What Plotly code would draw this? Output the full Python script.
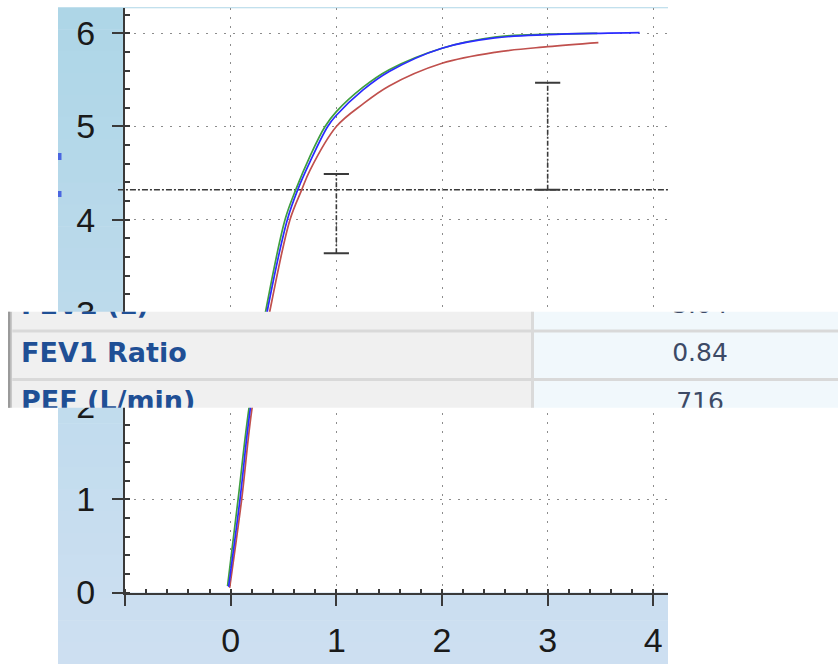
import plotly.graph_objects as go

W, H = 838, 664
# the photographed frame is squeezed vertically (~0.9715); draw the figure
# taller so that positions land where the reference has them
FIG_H = 683

# ---------------- data ----------------
# Volume-time curves (time in s, volume in L)
green_t = [-0.03, 0.07, 0.176, 0.35, 0.514, 0.615, 0.75, 0.893, 1.0, 1.25, 1.5, 2.0, 2.5, 3.0, 3.47]
green_v = [0.07, 1.0, 2.0, 3.13, 4.0, 4.32, 4.68, 5.0, 5.16, 5.42, 5.61, 5.84, 5.96, 5.99, 6.0]

blue_t = [-0.02, 0.088, 0.189, 0.365, 0.536, 0.634, 0.75, 0.918, 1.0, 1.25, 1.5, 2.0, 2.5, 3.0, 3.5, 3.87]
blue_v = [0.06, 1.0, 2.0, 3.13, 4.0, 4.32, 4.62, 5.0, 5.12, 5.39, 5.59, 5.84, 5.95, 5.985, 6.0, 6.006]

red_t = [-0.01, 0.104, 0.205, 0.39, 0.561, 0.672, 0.75, 1.0, 1.25, 1.5, 2.0, 2.5, 3.0, 3.48]
red_v = [0.05, 1.0, 2.0, 3.13, 4.0, 4.32, 4.53, 5.0, 5.24, 5.435, 5.678, 5.796, 5.856, 5.9]

# predicted ranges (error-bar style markers)
range_t = [1, 3]
range_low = [3.64, 4.32]
range_high = [4.49, 5.47]
lln_level = 4.32

x_tick_vals = [-1, 0, 1, 2, 3, 4]
x_tick_text = ["", "0", "1", "2", "3", "4"]
y_tick_vals = [0, 1, 2, 3, 4, 5, 6]

# overlaid results table strip
table_labels = ["FEV1 (L)", "FEV1 Ratio", "PEF (L/min)"]
table_values = ["5.04", "0.84", "716"]
table_rows = [0, 1, 2]

# ---------------- helpers ----------------
def fx(p):
    return p / W


def fy(p):
    return 1 - p / H


AX = "#3a3a3a"
TICKFONT = dict(family="Liberation Sans, Arial, sans-serif", size=34, color="#1a1a1a")

fig = go.Figure()

# curves (red, green, blue on top)
for t, v, c in [(red_t, red_v, "#c0504d"), (green_t, green_v, "#3f9f3f"), (blue_t, blue_v, "#2b2bff")]:
    fig.add_trace(go.Scatter(
        x=t, y=v, mode="lines", xaxis="x", yaxis="y",
        line=dict(color=c, width=1.7, shape="spline", smoothing=1.0),
        hoverinfo="skip", showlegend=False))

# predicted range bars
for t, lo, hi in zip(range_t, range_low, range_high):
    fig.add_trace(go.Scatter(
        x=[t, t], y=[lo, hi], mode="lines+markers", xaxis="x", yaxis="y",
        line=dict(color=AX, width=1.6, dash="5px,2px,2px,2px"),
        marker=dict(symbol="line-ew", size=18, line=dict(width=2, color=AX)),
        hoverinfo="skip", showlegend=False))

# ---------------- table strip (subplot 2, drawn above the chart) ----------------
STRIP_TOP, STRIP_BOT = 311.7, 407.7
ROW_PITCH, ROW1_CENTER = 48.5, 355.25
y2_top = 1 - (ROW1_CENTER - STRIP_TOP) / ROW_PITCH
y2_bot = 1 + (STRIP_BOT - ROW1_CENTER) / ROW_PITCH
COL_DIV = 532.5


def rect(x0, x1, color):
    fig.add_trace(go.Scatter(
        x=[x0, x1, x1, x0, x0], y=[-1, -1, 3, 3, -1], mode="lines", fill="toself",
        fillcolor=color, line=dict(width=0, color=color), xaxis="x2", yaxis="y2",
        hoverinfo="skip", showlegend=False))


rect(8, 12.3, "#c9c9c9")
rect(8, 10.3, "#9a9a9a")
rect(12.3, COL_DIV, "#f0f0f0")
rect(COL_DIV, W, "#f1f8fc")

# separators
for sep in [0.5, 1.5]:
    fig.add_trace(go.Scatter(
        x=[12.3, W], y=[sep, sep], mode="lines", xaxis="x2", yaxis="y2",
        line=dict(color="#d9d9d9", width=3), hoverinfo="skip", showlegend=False))
fig.add_trace(go.Scatter(
    x=[COL_DIV, COL_DIV], y=[-1, 3], mode="lines", xaxis="x2", yaxis="y2",
    line=dict(color="#dadada", width=3), hoverinfo="skip", showlegend=False))

fig.add_trace(go.Scatter(
    x=[21] * len(table_labels), y=table_rows, text=table_labels, mode="text",
    textposition="middle right", xaxis="x2", yaxis="y2", cliponaxis=True,
    textfont=dict(family="DejaVu Sans, Verdana, sans-serif", size=27, color="#1f4f95", weight="bold"),
    hoverinfo="skip", showlegend=False))
fig.add_trace(go.Scatter(
    x=[700] * len(table_values), y=table_rows, text=table_values, mode="text",
    textposition="middle center", xaxis="x2", yaxis="y2", cliponaxis=True,
    textfont=dict(family="DejaVu Sans, Verdana, sans-serif", size=25, color="#3c4a66"),
    hoverinfo="skip", showlegend=False))

# ---------------- background shapes ----------------
shapes = []
BG_TOP, BG_BOT = 7.3, 664
N = 30
c0 = (174, 214, 231)
c1 = (205, 223, 241)
for i in range(N):
    a = i / (N - 1)
    col = "rgb(%d,%d,%d)" % tuple(round(c0[k] + (c1[k] - c0[k]) * a) for k in range(3))
    y0p = BG_TOP + (BG_BOT - BG_TOP) * i / N
    y1p = BG_TOP + (BG_BOT - BG_TOP) * (i + 1) / N + 0.6
    shapes.append(dict(type="rect", xref="paper", yref="paper", layer="below",
                       x0=fx(58), x1=fx(668), y0=fy(min(y1p, BG_BOT)), y1=fy(y0p),
                       fillcolor=col, line=dict(width=0)))
# white plot area
shapes.append(dict(type="rect", xref="x domain", yref="y domain", layer="below",
                   x0=0, x1=1, y0=0, y1=1, fillcolor="white", line=dict(width=0)))
# small blue blips on the left edge
for (a, b) in [(153, 160), (191, 197)]:
    shapes.append(dict(type="rect", xref="paper", yref="paper", layer="below",
                       x0=fx(58), x1=fx(61.5), y0=fy(b), y1=fy(a),
                       fillcolor="#4a66e0", line=dict(width=0)))
# lower-limit reference line
shapes.append(dict(type="line", xref="x domain", yref="y", layer="below",
                   x0=-0.013, x1=1, y0=lln_level, y1=lln_level,
                   line=dict(color=AX, width=1.5, dash="6px,2px,2px,2px")))

fig.update_layout(
    width=W, height=FIG_H, autosize=False,
    margin=dict(l=0, r=0, t=0, b=0, pad=0),
    paper_bgcolor="white", plot_bgcolor="rgba(0,0,0,0)",
    showlegend=False, shapes=shapes,
    xaxis=dict(
        domain=[fx(125), fx(668)], range=[-1.0005, 4.139], anchor="y",
        tickmode="array", tickvals=x_tick_vals, ticktext=x_tick_text,
        ticks="outside", ticklen=11, tickwidth=2, tickcolor=AX,
        showline=True, linecolor=AX, linewidth=2,
        showgrid=True, gridcolor="#8c8c8c", gridwidth=1, griddash="2px,7px",
        zeroline=False, tickfont=TICKFONT, ticklabelstandoff=6,
        minor=dict(dtick=0.2, tick0=0, ticks="inside", ticklen=4, tickwidth=1.5,
                   tickcolor=AX, showgrid=False),
        fixedrange=True),
    yaxis=dict(
        domain=[fy(592.5), fy(8.3)], range=[0, 6.268], anchor="x",
        tickmode="array", tickvals=y_tick_vals,
        ticks="outside", ticklen=11, tickwidth=2, tickcolor=AX,
        showline=True, linecolor=AX, linewidth=2,
        showgrid=True, gridcolor="#8c8c8c", gridwidth=1, griddash="2px,7px",
        zeroline=False, tickfont=TICKFONT, ticklabelstandoff=10,
        minor=dict(dtick=0.2, tick0=0, ticks="inside", ticklen=5, tickwidth=1.5,
                   tickcolor=AX, showgrid=False),
        fixedrange=True),
    xaxis2=dict(domain=[0, 1], range=[0, W], anchor="y2", visible=False, fixedrange=True),
    yaxis2=dict(domain=[fy(STRIP_BOT), fy(STRIP_TOP)], range=[y2_bot, y2_top],
                anchor="x2", visible=False, fixedrange=True),
)

POST = (
    "var gd=document.getElementById('{plot_id}');"
    "var st=document.createElement('style');"
    "st.textContent='html,body{margin:0 !important;padding:0 !important;overflow:hidden !important;}';"
    "document.head.appendChild(st);"
    "gd.style.position='absolute';gd.style.left='0px';gd.style.top='0px';"
)

fig.write_html("out.html", config={"responsive": False, "displayModeBar": False},
               post_script=POST)
